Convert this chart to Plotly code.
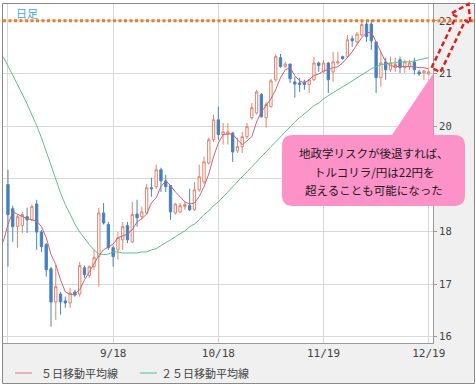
import plotly.graph_objects as go

# ---------------- data ----------------
dates = ["8/16", "8/17", "8/20", "8/21", "8/22", "8/23", "8/24", "8/27", "8/28", "8/29",
         "8/30", "8/31", "9/3", "9/4", "9/5", "9/6", "9/7", "9/10", "9/11", "9/12",
         "9/13", "9/14", "9/17", "9/18", "9/19", "9/20", "9/21", "9/24", "9/25", "9/26",
         "9/27", "9/28", "10/1", "10/2", "10/3", "10/4", "10/5", "10/8", "10/9", "10/10",
         "10/11", "10/12", "10/15", "10/16", "10/17", "10/18", "10/19", "10/22", "10/23", "10/24",
         "10/25", "10/26", "10/29", "10/30", "10/31", "11/1", "11/2", "11/5", "11/6", "11/7",
         "11/8", "11/9", "11/12", "11/13", "11/14", "11/15", "11/16", "11/19", "11/20", "11/21",
         "11/22", "11/23", "11/26", "11/27", "11/28", "11/29", "11/30", "12/3", "12/4", "12/5",
         "12/6", "12/7", "12/10", "12/11", "12/12", "12/13", "12/14", "12/17", "12/18", "12/19"]
candle_dates = dates[1:]

open_ = [18.89, 18.43, 18.09, 18.11, 18.28, 18.22, 18.52, 17.99, 17.75, 17.29,
         16.66, 16.81, 16.68, 16.64, 16.85, 16.81, 17.31, 17.16, 17.33, 17.52,
         18.35, 18.13, 17.69, 17.65, 17.84, 18.11, 17.80, 18.33, 18.28, 18.35,
         18.83, 18.85, 19.17, 18.96, 18.87, 18.35, 18.37, 18.47, 18.49, 18.41,
         18.79, 18.94, 19.30, 19.74, 20.12, 19.84, 19.85, 19.87, 19.53, 19.61,
         19.80, 20.16, 20.25, 20.60, 20.16, 20.37, 20.88, 21.30, 21.13, 21.18,
         20.84, 20.82, 20.84, 20.79, 20.88, 21.20, 21.03, 21.20, 21.03, 21.20,
         21.32, 21.32, 21.66, 21.60, 21.73, 21.94, 21.94, 21.60, 20.92, 21.22,
         21.07, 21.11, 21.26, 21.11, 21.13, 21.22, 21.03, 21.01, 20.99]
high = [19.17, 18.49, 18.32, 18.37, 18.45, 18.51, 18.60, 18.03, 17.78, 17.33,
        17.37, 16.85, 16.76, 16.93, 16.89, 17.42, 17.35, 17.35, 17.65, 18.45,
        18.54, 18.18, 17.73, 17.99, 18.18, 18.18, 18.56, 18.60, 18.47, 18.90,
        19.02, 19.27, 19.21, 19.08, 18.87, 18.54, 18.54, 18.56, 18.81, 18.94,
        19.27, 19.42, 19.78, 20.22, 20.37, 20.06, 20.06, 19.89, 19.78, 19.89,
        20.06, 20.44, 20.69, 20.63, 20.46, 20.90, 21.36, 21.37, 21.22, 21.18,
        20.94, 20.92, 20.88, 20.90, 21.32, 21.22, 21.26, 21.22, 21.41, 21.41,
        21.34, 21.73, 21.72, 21.79, 22.02, 22.02, 22.02, 21.60, 21.41, 21.30,
        21.32, 21.30, 21.32, 21.26, 21.26, 21.30, 21.07, 21.07, 21.07]
low = [17.33, 17.80, 17.69, 17.97, 17.97, 18.20, 17.65, 17.61, 17.14, 16.19,
       16.32, 16.42, 16.55, 16.55, 16.76, 16.76, 17.12, 17.12, 17.27, 16.95,
       18.13, 17.65, 17.33, 17.46, 17.65, 17.78, 17.78, 18.09, 18.24, 18.32,
       18.66, 18.81, 18.75, 18.75, 18.22, 18.32, 18.35, 18.41, 18.39, 18.39,
       18.75, 18.90, 19.27, 19.70, 19.74, 19.65, 19.65, 19.32, 19.49, 19.49,
       19.76, 20.12, 20.22, 20.16, 19.97, 20.35, 20.84, 21.11, 21.11, 20.82,
       20.54, 20.65, 20.69, 20.63, 20.86, 21.03, 21.01, 20.63, 20.84, 21.17,
       21.26, 21.30, 21.51, 21.55, 21.70, 21.60, 21.45, 20.63, 20.75, 20.88,
       21.03, 21.03, 21.01, 21.01, 21.07, 20.98, 20.96, 20.88, 20.96]
close = [18.32, 18.09, 18.28, 18.32, 18.22, 18.47, 17.99, 17.71, 17.27, 16.66,
         16.95, 16.66, 16.64, 16.83, 16.79, 17.35, 17.18, 17.33, 17.50, 18.35,
         18.16, 17.69, 17.52, 17.88, 18.09, 17.84, 18.32, 18.26, 18.37, 18.83,
         18.81, 19.17, 18.96, 18.85, 18.37, 18.52, 18.49, 18.51, 18.41, 18.79,
         19.04, 19.32, 19.74, 20.12, 19.84, 19.89, 19.89, 19.51, 19.61, 19.80,
         19.99, 20.35, 20.65, 20.18, 20.41, 20.86, 21.32, 21.13, 21.18, 20.90,
         20.80, 20.79, 20.79, 20.88, 21.20, 21.15, 21.20, 20.88, 21.22, 21.22,
         21.28, 21.64, 21.62, 21.75, 21.93, 21.70, 21.62, 20.92, 21.20, 21.07,
         21.20, 21.17, 21.11, 21.22, 21.20, 21.07, 20.99, 21.05, 21.03]

ma5 = [17.80, 18.13, 18.37, 18.33, 18.28, 18.24, 18.22, 18.20, 18.09, 17.88,
       17.56, 17.37, 17.08, 16.85, 16.80, 16.81, 16.89, 17.08, 17.23, 17.38,
       17.54, 17.65, 17.71, 17.76, 17.88, 17.92, 17.95, 18.03, 18.18, 18.24,
       18.33, 18.54, 18.64, 18.85, 18.96, 18.87, 18.75, 18.66, 18.56, 18.52,
       18.54, 18.66, 18.85, 19.09, 19.42, 19.68, 19.84, 19.85, 19.85, 19.74,
       19.65, 19.72, 19.80, 20.08, 20.27, 20.39, 20.52, 20.69, 20.92, 21.07,
       21.11, 20.96, 20.86, 20.82, 20.88, 20.96, 20.99, 21.05, 21.07, 21.11,
       21.13, 21.20, 21.30, 21.41, 21.55, 21.68, 21.77, 21.79, 21.60, 21.41,
       21.22, 21.15, 21.13, 21.13, 21.13, 21.13, 21.13, 21.11, 21.11, 21.09]
ma25 = [21.32, 21.15, 20.96, 20.80, 20.61, 20.42, 20.23, 20.01, 19.78, 19.51,
        19.25, 18.98, 18.73, 18.51, 18.32, 18.14, 17.99, 17.86, 17.75, 17.65,
        17.57, 17.56, 17.57, 17.61, 17.61, 17.59, 17.59, 17.59, 17.59, 17.61,
        17.61, 17.65, 17.67, 17.73, 17.78, 17.84, 17.90, 17.95, 18.01, 18.09,
        18.14, 18.22, 18.32, 18.39, 18.49, 18.56, 18.66, 18.75, 18.85, 18.94,
        19.04, 19.13, 19.23, 19.32, 19.42, 19.51, 19.61, 19.70, 19.80, 19.89,
        19.99, 20.08, 20.16, 20.23, 20.31, 20.39, 20.44, 20.52, 20.58, 20.63,
        20.69, 20.75, 20.80, 20.86, 20.92, 20.98, 21.03, 21.09, 21.13, 21.17,
        21.18, 21.20, 21.20, 21.22, 21.22, 21.22, 21.24, 21.26, 21.28, 21.30]

x_tickvals = ["8/17", "9/18", "10/18", "11/19", "12/19"]
x_ticktext = ["", "9/18", "10/18", "11/19", "12/19"]
y_tickvals = [16, 17, 18, 19, 20, 21, 22]
target_level = 22

label_top = "日足"
legend_names = ["５日移動平均線", "２５日移動平均線"]
callout_lines = ["地政学リスクが後退すれば、", "トルコリラ/円は22円を", "超えることも可能になった"]

# ---------------- layout geometry (pixels -> paper) ----------------
W, H = 476, 388
PL, PR, PT, PB = 3, 433, 4, 343


def X(px):
    return (px - PL) / (PR - PL)


def Y(py):
    return (PB - py) / (PB - PT)


def path(points, close_=True):
    s = "M " + " L ".join(f"{X(a):.5f},{Y(b):.5f}" for a, b in points)
    return s + (" Z" if close_ else "")


fig = go.Figure()

fig.add_trace(go.Candlestick(
    x=candle_dates, open=open_, high=high, low=low, close=close,
    increasing=dict(line=dict(color="#e5846c", width=1), fillcolor="#ffffff"),
    decreasing=dict(line=dict(color="#4a84bf", width=1), fillcolor="#3f7ec0"),
    whiskerwidth=0, showlegend=False, hoverinfo="skip"))
fig.add_trace(go.Scatter(x=dates, y=ma25, mode="lines",
                         line=dict(color="#5fbf8e", width=1), showlegend=False, hoverinfo="skip"))
fig.add_trace(go.Scatter(x=dates, y=ma5, mode="lines",
                         line=dict(color="#c8647a", width=1), showlegend=False, hoverinfo="skip"))

shapes = []
# gray panels (right + bottom)
shapes.append(dict(type="rect", xref="paper", yref="paper", x0=1, x1=X(474), y0=Y(383), y1=1,
                   fillcolor="#f0f0f0", line=dict(width=0), layer="below"))
shapes.append(dict(type="rect", xref="paper", yref="paper", x0=0, x1=X(474), y0=Y(383), y1=0,
                   fillcolor="#f0f0f0", line=dict(width=0), layer="below"))
# outer frame
shapes.append(dict(type="rect", xref="paper", yref="paper", x0=X(2.5), x1=X(474.5), y0=Y(383.5), y1=Y(3.5),
                   fillcolor="rgba(0,0,0,0)", line=dict(color="#8a8a8a", width=1), layer="above"))
# orange dotted target line
shapes.append(dict(type="line", xref="paper", yref="y", x0=0, x1=X(474), y0=target_level, y1=target_level,
                   line=dict(color="#f07b22", width=3, dash="3px,2.5px"), layer="above"))
# pink callout
L_, R_, T_, B_, r = 282, 465, 135, 206, 11
cpath = (f"M {X(L_ + r):.5f},{Y(T_):.5f} L {X(392):.5f},{Y(T_):.5f} L {X(433.5):.5f},{Y(73):.5f} "
         f"L {X(433.5):.5f},{Y(T_):.5f} L {X(R_ - r):.5f},{Y(T_):.5f} "
         f"Q {X(R_):.5f},{Y(T_):.5f} {X(R_):.5f},{Y(T_ + r):.5f} L {X(R_):.5f},{Y(B_ - r):.5f} "
         f"Q {X(R_):.5f},{Y(B_):.5f} {X(R_ - r):.5f},{Y(B_):.5f} L {X(L_ + r):.5f},{Y(B_):.5f} "
         f"Q {X(L_):.5f},{Y(B_):.5f} {X(L_):.5f},{Y(B_ - r):.5f} L {X(L_):.5f},{Y(T_ + r):.5f} "
         f"Q {X(L_):.5f},{Y(T_):.5f} {X(L_ + r):.5f},{Y(T_):.5f} Z")
shapes.append(dict(type="path", xref="paper", yref="paper", path=cpath,
                   fillcolor="#fd92c8", line=dict(width=0), layer="above"))
# red dashed hollow arrow
arrow_pts = [(431.5, 67.8), (456.2, 16.3), (451.0, 13.6), (468.5, 4.0),
             (470.4, 23.4), (465.2, 20.7), (440.5, 72.2)]
shapes.append(dict(type="path", xref="paper", yref="paper", path=path(arrow_pts),
                   fillcolor="rgba(0,0,0,0)", line=dict(color="#e02020", width=2.5, dash="5px,3px"),
                   layer="above"))
# legend samples
shapes.append(dict(type="line", xref="paper", yref="paper", x0=X(15), x1=X(32), y0=Y(373), y1=Y(373),
                   line=dict(color="#dba2ad", width=1.5)))
shapes.append(dict(type="line", xref="paper", yref="paper", x0=X(140), x1=X(157), y0=Y(373), y1=Y(373),
                   line=dict(color="#86cfae", width=1.5)))

annotations = [
    dict(text=label_top, xref="paper", yref="paper", x=X(14), y=Y(13), xanchor="left", yanchor="middle",
         showarrow=False, font=dict(family="Noto Sans CJK JP", size=11, color="#3fa9e0")),
    dict(text=legend_names[0], xref="paper", yref="paper", x=X(39), y=Y(373), xanchor="left",
         yanchor="middle", showarrow=False, font=dict(family="Noto Sans CJK JP", size=11, color="#444444")),
    dict(text=legend_names[1], xref="paper", yref="paper", x=X(159), y=Y(373), xanchor="left",
         yanchor="middle", showarrow=False, font=dict(family="Noto Sans CJK JP", size=11, color="#444444")),
]
for line_txt, py in zip(callout_lines, [153, 172, 190]):
    annotations.append(dict(text=line_txt, xref="paper", yref="paper", x=X(374), y=Y(py),
                            xanchor="center", yanchor="middle", showarrow=False,
                            font=dict(family="Noto Sans CJK JP", size=11.5, color="#1a1a1a")))

fig.update_layout(
    width=W, height=H, autosize=False,
    margin=dict(l=PL, r=W - PR, t=PT, b=H - PB, pad=0),
    paper_bgcolor="#ffffff", plot_bgcolor="#ffffff",
    showlegend=False,
    shapes=shapes, annotations=annotations,
    xaxis=dict(type="category", categoryorder="array", categoryarray=dates,
               range=[-0.04, 89.9], tickvals=x_tickvals, ticktext=x_ticktext,
               showgrid=True, gridcolor="#d8d8d8", gridwidth=1, showline=True, linecolor="#9a9a9a",
               linewidth=1, ticks="", tickfont=dict(family="DejaVu Sans Mono", size=11, color="#444444"),
               rangeslider=dict(visible=False), fixedrange=True, zeroline=False),
    yaxis=dict(side="right", range=[15.88, 22.32], tickvals=y_tickvals,
               showgrid=True, gridcolor="#d8d8d8", gridwidth=1, showline=True, linecolor="#9a9a9a",
               linewidth=1, ticks="outside", ticklen=3, tickcolor="#9a9a9a",
               tickfont=dict(family="DejaVu Sans Mono", size=10.5, color="#444444"),
               fixedrange=True, zeroline=False),
)

fig.write_html("out.html", config={"displayModeBar": False},
               post_script="document.body.style.margin='0';document.body.style.padding='0';")
